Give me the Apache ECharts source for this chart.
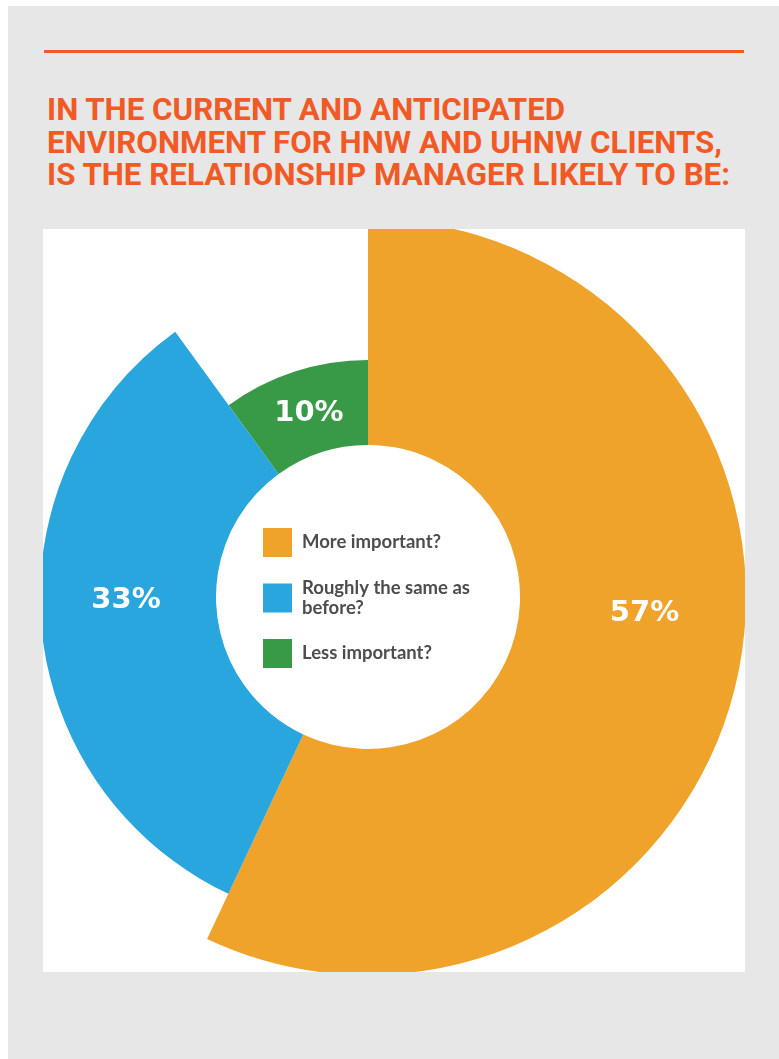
<!DOCTYPE html>
<html>
<head>
<meta charset="utf-8">
<script src="https://cdn.jsdelivr.net/npm/echarts@6/dist/echarts.min.js"></script>
<style>
  html, body { margin: 0; padding: 0; background: #ffffff; }
  body { width: 779px; height: 1059px; position: relative; overflow: hidden; }
  #panel { position: absolute; left: 8px; top: 6px; right: 0; bottom: 0; background: #e7e7e7; }
  #rule { position: absolute; left: 44px; top: 50px; width: 700px; height: 3px; background: #f15a24; }
  #heading { position: absolute; left: 47px; top: 94px; margin: 0;
             font: 700 31.3px/32.5px Roboto, sans-serif; color: #f15a24; white-space: pre; }
  #chart { position: absolute; left: 43px; top: 229px; width: 702px; height: 743px; background: #ffffff; }
</style>
</head>
<body>
<div id="panel"></div>
<div id="rule"></div>
<h1 id="heading"></h1>
<div id="chart"></div>
<script>
// Question heading, one entry per line
const headingLines = [
  'IN THE CURRENT AND ANTICIPATED',
  'ENVIRONMENT FOR HNW AND UHNW CLIENTS,',
  'IS THE RELATIONSHIP MANAGER LIKELY TO BE:'
];

// Answers and their share of respondents (%)
const categories = ['More important?', 'Roughly the same as before?', 'Less important?'];
const shares = [57, 33, 10];

// Styling per answer
const colors = ['#efa32b', '#29a6de', '#389a46'];
const outerRadius = [378, 328, 237];
const innerRadius = 152;
const labelNudge = [[15, -42], [0, -19], [2, 4]];

document.getElementById('heading').textContent = headingLines.join('\n');

const chart = echarts.init(document.getElementById('chart'), null, { renderer: 'canvas' });

// One ring per answer so each slice gets its own outer radius;
// the other slices of each ring stay invisible.
const series = categories.map((_, k) => ({
  type: 'pie',
  center: [325, 368],
  radius: [innerRadius, outerRadius[k]],
  startAngle: 90,
  clockwise: true,
  silent: true,
  animation: false,
  avoidLabelOverlap: false,
  labelLine: { show: false },
  itemStyle: { borderWidth: 0 },
  label: {
    position: 'inside',
    formatter: '{c}%',
    color: '#ffffff',
    fontFamily: 'DejaVu Sans',
    fontWeight: 'bold',
    fontSize: 29
  },
  labelLayout: () => ({ dx: labelNudge[k][0], dy: labelNudge[k][1] }),
  data: categories.map((name, i) => ({
    name,
    value: shares[i],
    itemStyle: { color: i === k ? colors[i] : 'rgba(0,0,0,0)' },
    label: { show: i === k }
  }))
}));

chart.setOption({
  animation: false,
  legend: {
    orient: 'vertical',
    left: 220,
    top: 299,
    padding: 0,
    icon: 'rect',
    itemWidth: 29,
    itemHeight: 29,
    itemGap: 21,
    selectedMode: false,
    data: categories.map((name, i) => ({ name, itemStyle: { color: colors[i] } })),
    formatter: name => name.replace('same as ', 'same as\n'),
    textStyle: {
      fontFamily: 'Lato',
      fontWeight: 'bold',
      fontSize: 18.5,
      lineHeight: 20,
      color: '#4d4d4d',
      padding: [0, 0, 0, 5]
    }
  },
  series
});
</script>
</body>
</html>
